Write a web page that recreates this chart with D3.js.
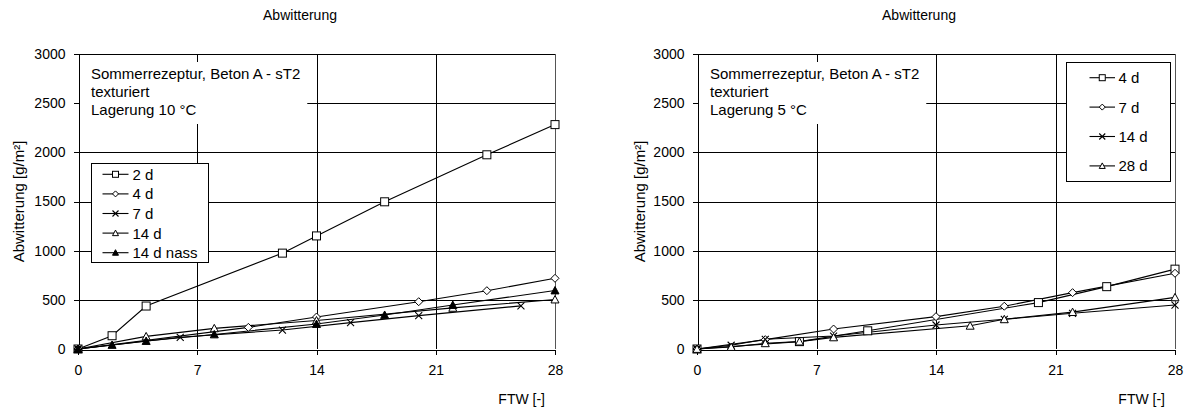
<!DOCTYPE html>
<html>
<head>
<meta charset="utf-8">
<script src="https://cdn.jsdelivr.net/npm/d3@7"></script>
<style>
  html, body { margin: 0; padding: 0; background: #fff; }
  svg { display: block; font-family: "Liberation Sans", Arial, sans-serif; }
</style>
</head>
<body>
<svg id="chart" width="1189" height="410"></svg>
<script>
// ---- shared axis setup ----
const xTickValues = [0, 7, 14, 21, 28];
const yTickValues = [0, 500, 1000, 1500, 2000, 2500, 3000];
const chartTitle = "Abwitterung";
const xAxisTitle = "FTW [-]";
const yAxisTitle = "Abwitterung [g/m²]";

// ---- storage at 10 °C ----
const note10 = ["Sommerrezeptur, Beton A - sT2", "texturiert", "Lagerung 10 °C"];
const labels10 = ["2 d", "4 d", "7 d", "14 d", "14 d nass"];
const ftw10_2d = [0, 2, 4, 12, 14, 18, 24, 28];
const abw10_2d = [0, 135, 437, 975, 1150, 1497, 1975, 2282];
const ftw10_4d = [0, 10, 14, 20, 24, 28];
const abw10_4d = [0, 220, 325, 481, 593, 719];
const ftw10_7d = [0, 6, 12, 16, 20, 26];
const abw10_7d = [0, 119, 193, 268, 339, 439];
const ftw10_14d = [0, 4, 8, 14, 22, 28];
const abw10_14d = [0, 128, 210, 290, 418, 503];
const ftw10_14dn = [0, 2, 4, 8, 14, 18, 22, 28];
const abw10_14dn = [0, 41, 81, 148, 254, 346, 447, 595];

// ---- storage at 5 °C ----
const note5 = ["Sommerrezeptur, Beton A - sT2", "texturiert", "Lagerung 5 °C"];
const labels5 = ["4 d", "7 d", "14 d", "28 d"];
const ftw5_4d = [0, 6, 10, 20, 24, 28];
const abw5_4d = [0, 75, 185, 472, 634, 812];
const ftw5_7d = [0, 4, 8, 14, 18, 22, 28];
const abw5_7d = [0, 95, 203, 329, 435, 573, 770];
const ftw5_14d = [0, 2, 4, 8, 14, 18, 22, 28];
const abw5_14d = [0, 38, 99, 132, 244, 302, 363, 447];
const ftw5_28d = [0, 2, 4, 6, 8, 16, 18, 22, 28];
const abw5_28d = [0, 20, 58, 75, 118, 236, 302, 375, 525];

const zip = (xs, ys) => xs.map((x, i) => ({ x, y: ys[i] }));

const series10 = [
  { name: labels10[0], marker: "square",   pts: zip(ftw10_2d, abw10_2d) },
  { name: labels10[1], marker: "diamond",  pts: zip(ftw10_4d, abw10_4d) },
  { name: labels10[2], marker: "cross",    pts: zip(ftw10_7d, abw10_7d) },
  { name: labels10[3], marker: "triangle", pts: zip(ftw10_14d, abw10_14d) },
  { name: labels10[4], marker: "triangleFilled", pts: zip(ftw10_14dn, abw10_14dn) }
];
const series5 = [
  { name: labels5[0], marker: "square",   pts: zip(ftw5_4d, abw5_4d) },
  { name: labels5[1], marker: "diamond",  pts: zip(ftw5_7d, abw5_7d) },
  { name: labels5[2], marker: "cross",    pts: zip(ftw5_14d, abw5_14d) },
  { name: labels5[3], marker: "triangle", pts: zip(ftw5_28d, abw5_28d) }
];

const svg = d3.select("#chart");

function drawMarker(sel, type, size) {
  const s = size / 2;
  if (type === "square") {
    sel.append("rect").attr("x", -s).attr("y", -s).attr("width", 2 * s).attr("height", 2 * s)
      .attr("fill", "#fff").attr("stroke", "#000").attr("stroke-width", 1);
  } else if (type === "diamond") {
    sel.append("path").attr("d", `M0,${-s}L${s},0L0,${s}L${-s},0Z`)
      .attr("fill", "#fff").attr("stroke", "#000").attr("stroke-width", 1);
  } else if (type === "cross") {
    sel.append("path").attr("d", `M${-s},${-s}L${s},${s}M${-s},${s}L${s},${-s}`)
      .attr("fill", "none").attr("stroke", "#000").attr("stroke-width", 1.1);
  } else {
    sel.append("path").attr("d", `M0,${-s}L${s},${s * 0.85}L${-s},${s * 0.85}Z`)
      .attr("fill", type === "triangleFilled" ? "#000" : "#fff")
      .attr("stroke", "#000").attr("stroke-width", 1);
  }
}

function drawPanel(opt) {
  const g = svg.append("g");
  const x = d3.scaleLinear().domain([0, 28]).range([opt.left, opt.right]);
  const y = d3.scaleLinear().domain([0, 3000]).range([349, 54]);

  // title
  g.append("text").attr("x", opt.titleX).attr("y", 20).attr("text-anchor", "middle")
    .attr("font-size", 14).text(chartTitle);

  // grid
  const grid = g.append("g").attr("stroke", "#000").attr("stroke-width", 1)
    .attr("shape-rendering", "crispEdges");
  yTickValues.filter(v => v > 0).forEach(v => {
    grid.append("line").attr("x1", x(0)).attr("x2", x(28))
      .attr("y1", Math.round(y(v)) + 0.5).attr("y2", Math.round(y(v)) + 0.5);
  });
  xTickValues.filter(v => v > 0).forEach(v => {
    grid.append("line").attr("y1", y(0)).attr("y2", y(3000))
      .attr("x1", Math.round(x(v)) + 0.5).attr("x2", Math.round(x(v)) + 0.5)
      .attr("stroke", v === 28 ? "#555" : "#000");
  });

  // note box (white, borderless)
  const noteG = g.append("g");
  const noteBg = noteG.append("rect").attr("fill", "#fff");
  const noteX = x(0) + 13;
  const noteY = [79, 97, 115];
  let maxLen = 0;
  opt.note.forEach((t, i) => {
    const tx = noteG.append("text").attr("x", noteX).attr("y", noteY[i])
      .attr("font-size", 15).text(t);
    maxLen = Math.max(maxLen, tx.node().getComputedTextLength());
  });
  noteBg.attr("x", x(0) + 1).attr("y", 62).attr("width", noteX + maxLen + 7 - x(0) - 1).attr("height", 62);

  // axes
  const yAxis = d3.axisLeft(y).tickValues(yTickValues).tickSize(5).tickPadding(8)
    .tickFormat(d3.format("d"));
  const xAxis = d3.axisBottom(x).tickValues(xTickValues).tickSize(5).tickPadding(11)
    .tickFormat(d3.format("d"));
  const ya = g.append("g").attr("transform", `translate(${Math.round(x(0)) + 0.5},0)`).call(yAxis);
  const xa = g.append("g").attr("transform", `translate(0,${Math.round(y(0)) + 0.5})`).call(xAxis);
  [ya, xa].forEach(a => {
    a.select(".domain").attr("stroke", "#000").attr("shape-rendering", "crispEdges");
    a.selectAll(".tick line").attr("stroke", "#000").attr("shape-rendering", "crispEdges");
    a.selectAll(".tick text").attr("font-size", 14).attr("fill", "#000")
      .attr("font-family", "Liberation Sans, Arial, sans-serif");
  });
  ya.selectAll(".tick line").attr("x2", -5);

  // axis titles
  g.append("text").attr("transform", `translate(${opt.yTitleX},${(y(0) + y(3000)) / 2}) rotate(-90)`)
    .attr("text-anchor", "middle").attr("dy", "0.35em").attr("font-size", 15).text(yAxisTitle);
  g.append("text").attr("x", x(28) - 10).attr("y", 404).attr("text-anchor", "end")
    .attr("font-size", 14).text(xAxisTitle);

  // series lines
  const line = d3.line().x(d => x(d.x)).y(d => y(d.y));
  opt.series.forEach(s => {
    g.append("path").datum(s.pts).attr("d", line)
      .attr("fill", "none").attr("stroke", "#000").attr("stroke-width", 1.1);
  });
  // series markers
  opt.series.forEach(s => {
    const mg = g.append("g");
    s.pts.forEach(p => {
      const m = mg.append("g").attr("transform", `translate(${x(p.x)},${y(p.y)})`);
      drawMarker(m, s.marker, s.marker === "cross" ? 7 : 8);
    });
  });

  // legend
  const L = opt.legend;
  const lg = g.append("g");
  lg.append("rect").attr("x", L.x + 0.5).attr("y", L.y + 0.5).attr("width", L.w).attr("height", L.h)
    .attr("fill", "#fff").attr("stroke", "#000").attr("shape-rendering", "crispEdges");
  opt.series.forEach((s, i) => {
    const cy = L.first + i * L.step;
    lg.append("line").attr("x1", L.lx0).attr("x2", L.lx1).attr("y1", cy).attr("y2", cy)
      .attr("stroke", "#000").attr("stroke-width", 1.1);
    const m = lg.append("g").attr("transform", `translate(${(L.lx0 + L.lx1) / 2},${cy})`);
    drawMarker(m, s.marker, 6);
    lg.append("text").attr("x", L.tx).attr("y", cy).attr("dy", "0.36em")
      .attr("font-size", 15).text(s.name);
  });
}

drawPanel({
  left: 78, right: 555, titleX: 300, yTitleX: 19,
  note: note10, series: series10,
  legend: { x: 91, y: 163, w: 117, h: 99, first: 174.3, step: 19.6, lx0: 102.5, lx1: 128.5, tx: 132.5 }
});
drawPanel({
  left: 697, right: 1175, titleX: 919, yTitleX: 640,
  note: note5, series: series5,
  legend: { x: 1066, y: 62, w: 104, h: 119, first: 77.7, step: 29.4, lx0: 1089.5, lx1: 1115, tx: 1118.5 }
});
</script>
</body>
</html>
